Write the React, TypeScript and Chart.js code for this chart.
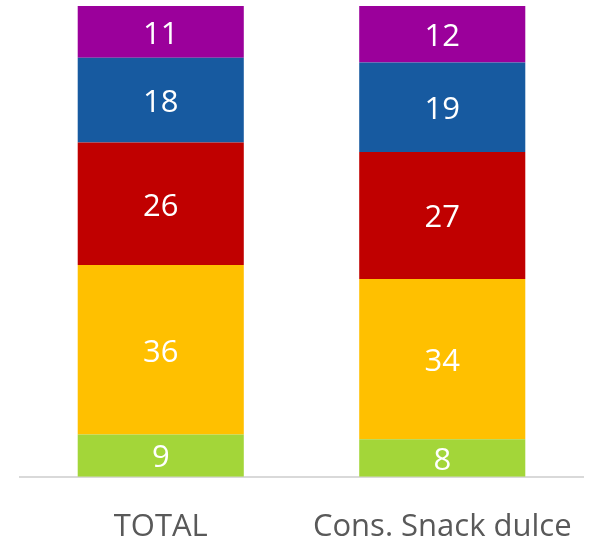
import React, { useEffect, useRef } from "react";
import { Chart, registerables } from "chart.js";

Chart.register(...registerables);

const categories = ["TOTAL", "Cons. Snack dulce"];
const seriesNames = ["s1", "s2", "s3", "s4", "s5"];
const greenValues = [9, 8];
const yellowValues = [36, 34];
const redValues = [26, 27];
const blueValues = [18, 19];
const purpleValues = [11, 12];

const FONT = "'Open Sans', 'DejaVu Sans', sans-serif";

const dataLabelPlugin = {
  id: "dataLabels",
  afterDatasetsDraw(chart: any) {
    const ctx = chart.ctx;
    ctx.save();
    ctx.fillStyle = "#ffffff";
    ctx.font = `31px ${FONT}`;
    ctx.textAlign = "center";
    ctx.textBaseline = "middle";
    chart.data.datasets.forEach((ds: any, i: number) => {
      const meta = chart.getDatasetMeta(i);
      meta.data.forEach((el: any, j: number) => {
        const y = (el.y + el.base) / 2;
        ctx.fillText(String(ds.data[j]), el.x, y + 3);
      });
    });
    ctx.restore();
  },
};

export default function App() {
  const ref = useRef<HTMLCanvasElement | null>(null);
  useEffect(() => {
    if (!ref.current) return;
    const series = [greenValues, yellowValues, redValues, blueValues, purpleValues];
    const colors = ["#a3d639", "#ffc000", "#c00000", "#175aa0", "#9b009b"];
    const chart = new Chart(ref.current, {
      type: "bar",
      data: {
        labels: categories,
        datasets: series.map((d, i) => ({
          label: seriesNames[i],
          data: d,
          backgroundColor: colors[i],
          borderWidth: 0,
          barPercentage: 1,
          categoryPercentage: 0.59,
        })),
      },
      options: {
        animation: false,
        responsive: true,
        maintainAspectRatio: false,
        layout: { padding: { left: 20, right: 13, top: 6, bottom: 0 } },
        plugins: { legend: { display: false }, tooltip: { enabled: false } },
        scales: {
          x: {
            stacked: true,
            grid: { display: false, drawTicks: false },
            border: { display: true, color: "#d9d9d9", width: 2 },
            ticks: { color: "#595959", font: { family: FONT, size: 31 }, padding: 32, maxRotation: 0 },
            afterFit: (scale: any) => {
              scale.paddingLeft = 0;
              scale.paddingRight = 0;
            },
          },
          y: {
            stacked: true,
            display: false,
            min: 0,
            max: 100,
          },
        },
      },
      plugins: [dataLabelPlugin],
    });
    return () => chart.destroy();
  }, []);
  return (
    <div style={{ position: "fixed", left: 0, top: 0, width: 596, height: 541, overflow: "hidden", background: "#fff" }}>
      <div style={{ position: "relative", width: 596, height: 578 }}>
        <canvas ref={ref} />
      </div>
    </div>
  );
}
